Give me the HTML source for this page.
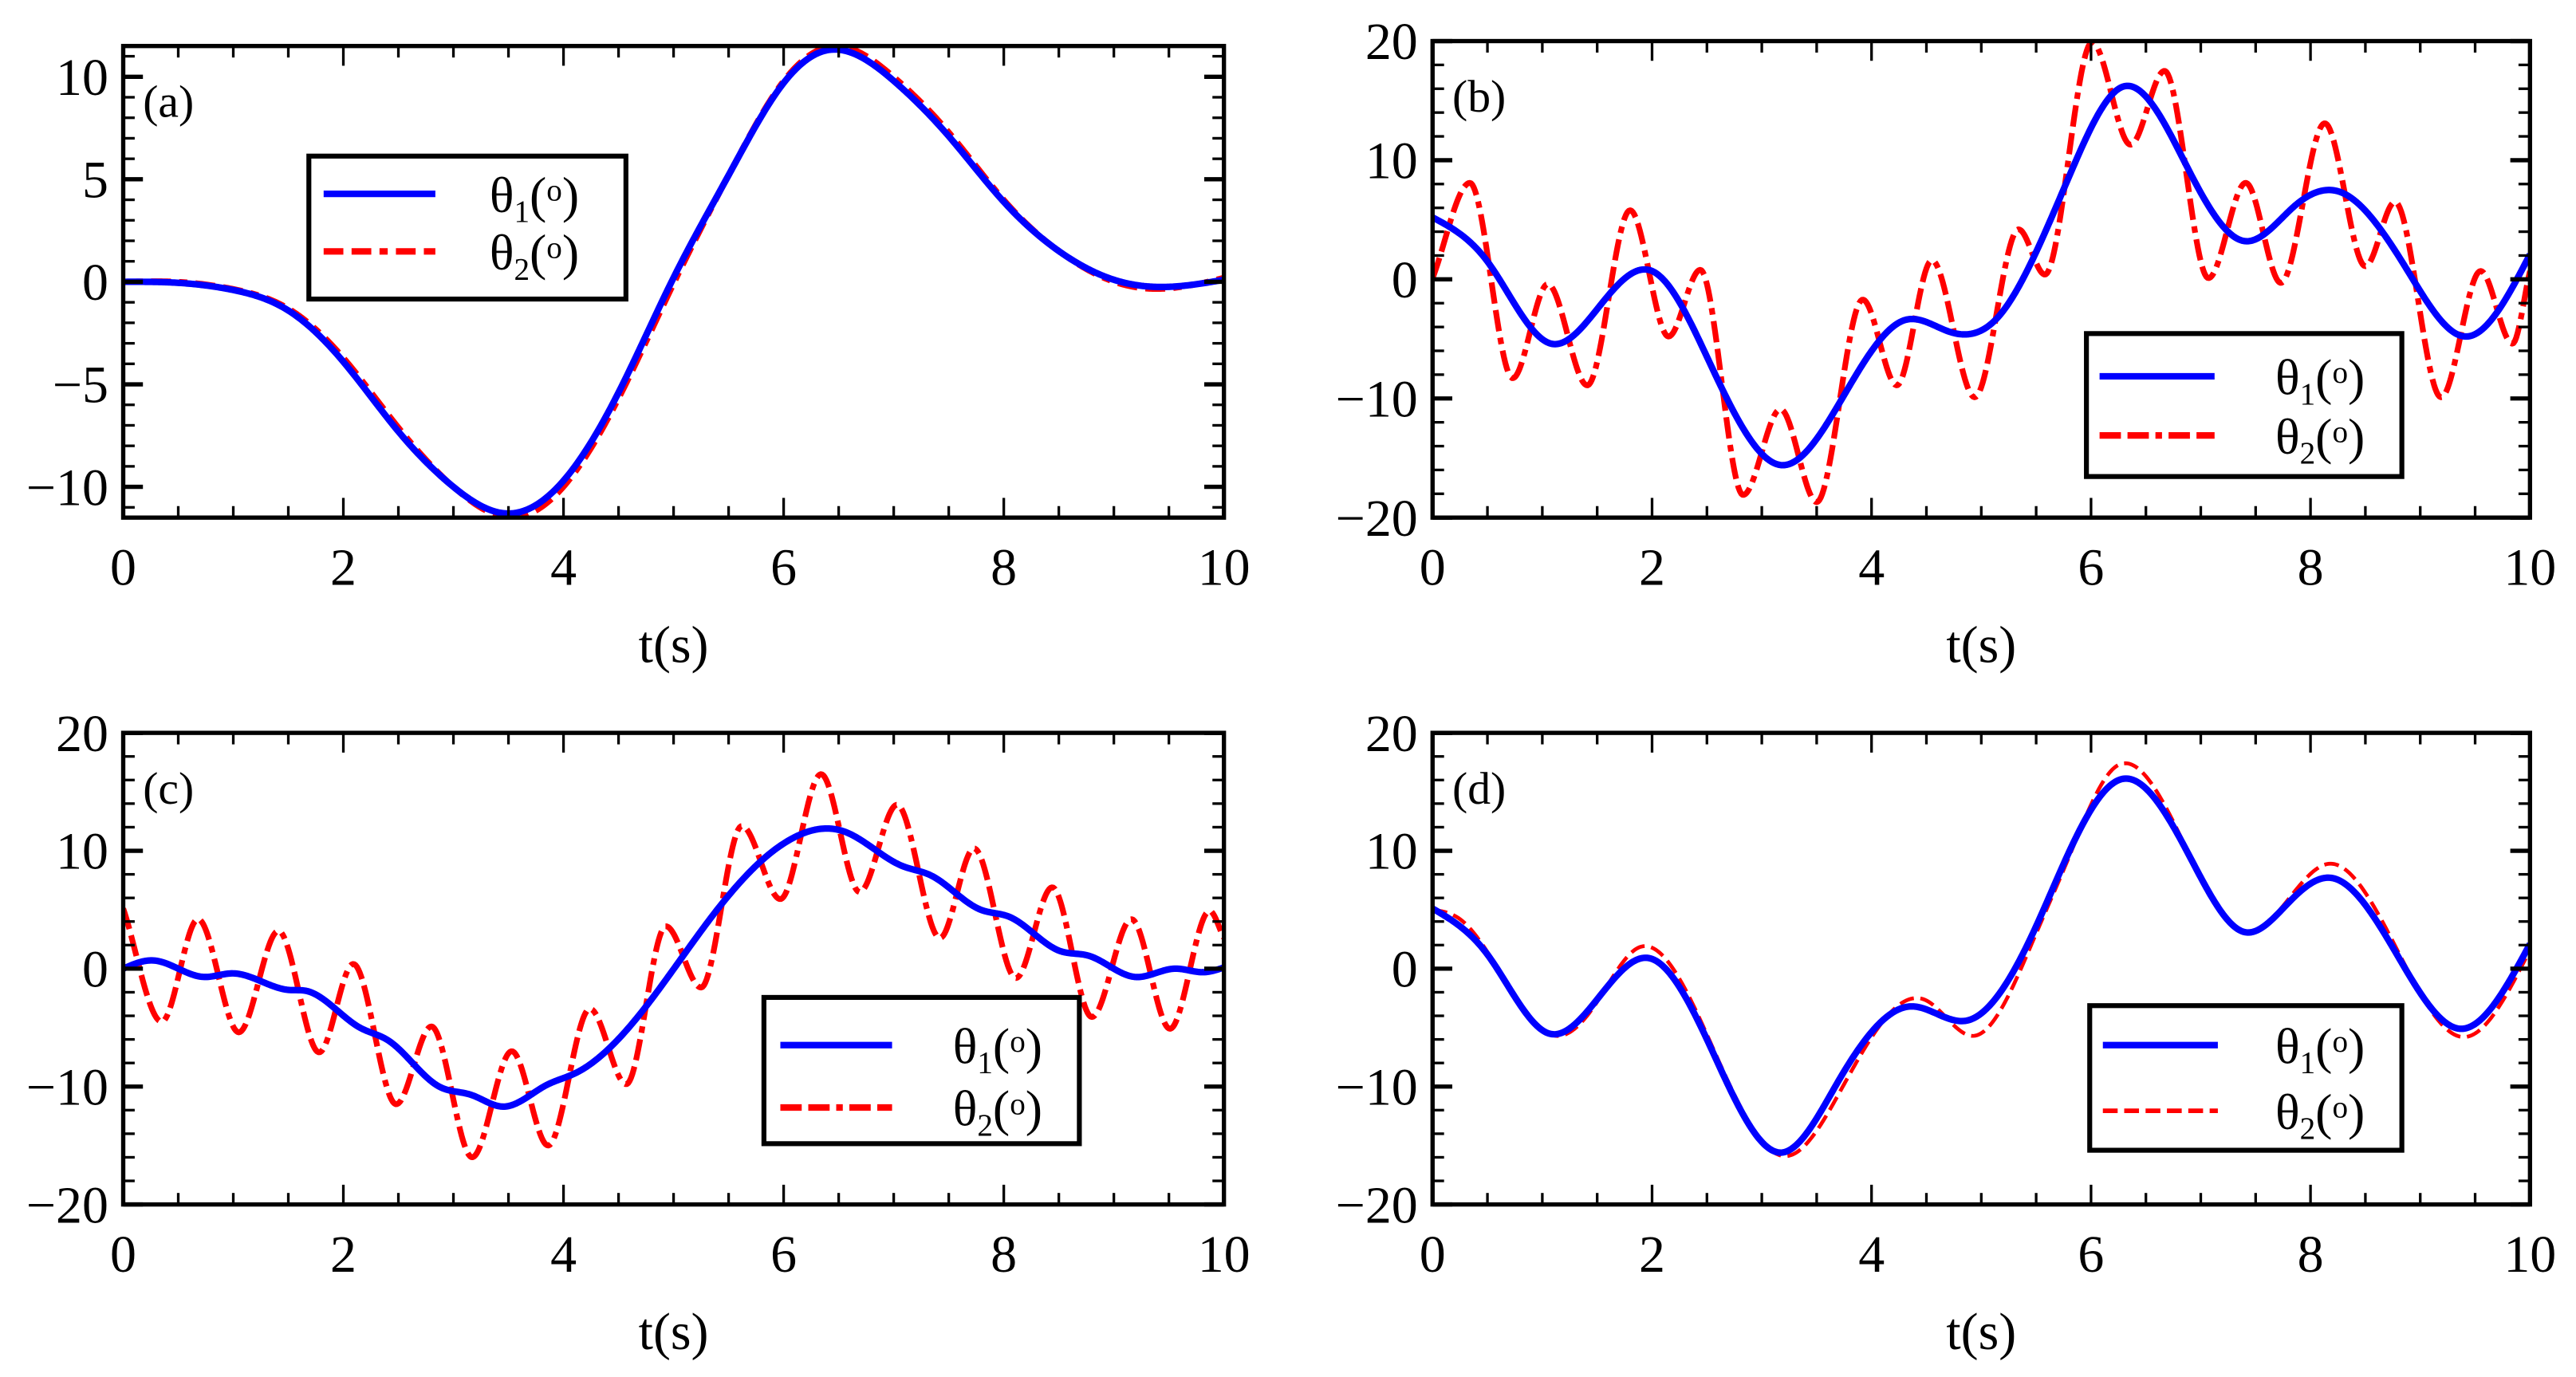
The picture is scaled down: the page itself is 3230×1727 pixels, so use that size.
<!DOCTYPE html>
<html><head><meta charset="utf-8"><style>
html,body{margin:0;padding:0;background:#fff;}
svg{display:block;}
text{font-family:"Liberation Serif","DejaVu Serif",serif;fill:#000;}
</style></head><body>
<svg id="fig" width="3230" height="1727" viewBox="0 0 1568 838" preserveAspectRatio="none" xmlns="http://www.w3.org/2000/svg"></svg>
<script>
// ---- data (t in s, angle in degrees) ----
const aBlueT=[0,0.5,1,1.5,2,2.5,3,3.5,4,4.5,5,5.5,6,6.4,7,7.5,8,8.5,9,9.4,10];
const aBlueV=[0,-0.05,-0.4,-1.4,-3.9,-7.3,-10.0,-11.3,-9.7,-5.4,0.2,5.2,9.7,11.3,9.8,7.1,3.9,1.5,0.1,-0.25,0.1];
const aRedT=[0,0.5,1,1.5,2,2.5,3,3.55,4,4.5,5,5.5,6,6.45,7,7.5,8,8.5,9,9.4,10];
const aRedV=[0,0,-0.35,-1.3,-3.7,-7.1,-10.0,-11.5,-10.0,-5.7,-0.1,5.2,9.8,11.5,10.0,7.3,4.0,1.5,0.0,-0.35,0.2];

const bBlueT=[0,0.5,1.08,1.5,2.0,2.5,3.19,3.7,4.31,4.71,5.14,5.5,5.85,6.3,6.9,7.41,7.86,8.28,8.9,9.42,10];
const bBlueV=[5.2,1.5,-5.4,-2.5,0.7,-6.5,-15.6,-10.5,-3.4,-4.4,-3.3,2.3,9.7,16.2,9.0,3.2,6.2,7.3,0.5,-4.8,2.1];
const bRedT=[0,0.34,0.73,1.05,1.41,1.80,2.15,2.44,2.83,3.17,3.50,3.92,4.23,4.55,4.94,5.34,5.58,6.01,6.36,6.67,7.07,7.41,7.73,8.13,8.50,8.77,9.19,9.55,9.84,10];
const bRedV=[0.1,8.1,-8.3,-0.4,-8.9,5.8,-4.8,0.8,-18.1,-10.9,-18.7,-1.7,-8.9,1.6,-9.9,4.2,0.4,19.9,11.3,17.5,0.1,8.1,-0.3,13.1,1.1,6.5,-9.9,0.7,-5.4,0.7];

const cBlueT=[0,0.27,0.73,0.99,1.5,1.67,2.15,2.41,2.87,3.16,3.45,3.84,4.1,4.75,5.33,5.78,6.11,6.56,7.08,7.34,7.79,8.05,8.51,8.77,9.19,9.55,9.81,10];
const cBlueV=[0,0.7,-0.7,-0.4,-1.8,-1.9,-5.0,-6.1,-10.0,-10.7,-11.7,-9.9,-8.9,-3.2,4.2,9.0,11.2,11.6,8.7,7.9,5.0,4.4,1.5,1.1,-0.7,0,-0.3,0.1];
const cRedT=[0,0.35,0.68,1.05,1.41,1.78,2.09,2.48,2.80,3.17,3.53,3.86,4.24,4.57,4.93,5.25,5.62,5.97,6.34,6.69,7.03,7.42,7.73,8.11,8.44,8.80,9.16,9.51,9.87,10];
const cRedV=[5.1,-4.5,4.2,-5.4,3.2,-7.1,0.4,-11.5,-4.9,-16.0,-7.0,-15.0,-3.4,-9.8,3.6,-1.6,12.1,5.9,16.5,6.5,13.9,2.6,10.2,-0.8,6.9,-4.1,4.2,-5.1,4.9,2.6];

const dBlueT=[0,0.5,1.06,1.5,1.97,2.5,3.18,3.7,4.36,4.87,5.5,5.8,6.29,6.9,7.40,7.8,8.19,8.8,9.37,10];
const dBlueV=[5.1,1.2,-5.5,-2.6,0.9,-6.0,-15.6,-9.5,-3.2,-4.4,3.6,9.9,16.1,9.5,3.1,5.6,7.7,1.0,-5.1,2.1];
const dRedT=[0,0.25,1.13,1.5,1.88,2.5,3.22,3.75,4.5,4.93,5.5,5.8,6.22,6.9,7.43,7.8,8.17,8.8,9.40,10];
const dRedV=[5.0,4.2,-5.7,-2.8,1.8,-5.6,-15.9,-9.8,-2.7,-5.7,3.0,9.5,17.1,9.6,3.1,5.9,8.9,1.4,-5.8,1.6];

const panels=[
 {id:'a',x0:75,x1:745,y0:28,y1:315,ymin:-11.5,ymax:11.5,yMaj:5,yMin:1,yTicks:[10,5,0,-5,-10],
  blueT:aBlueT,blueV:aBlueV,redT:aRedT,redV:aRedV,dash:'12,5,12,5,5,5',rw:3.5,
  leg:{x:188,y:95,w:193,h:87,lx0:197,lx1:265,l1:118,l2:153,tx:298}},
 {id:'b',x0:872,x1:1540,y0:25,y1:315,ymin:-20,ymax:20,yMaj:10,yMin:2,yTicks:[20,10,0,-10,-20],
  blueT:bBlueT,blueV:bBlueV,redT:bRedT,redV:bRedV,dash:'13,4,13,4,4,4',rw:3.5,
  leg:{x:1270,y:203,w:192,h:87,lx0:1278,lx1:1348,l1:229,l2:265,tx:1385}},
 {id:'c',x0:75,x1:745,y0:446,y1:733,ymin:-20,ymax:20,yMaj:10,yMin:2,yTicks:[20,10,0,-10,-20],
  blueT:cBlueT,blueV:cBlueV,redT:cRedT,redV:cRedV,dash:'13,4,13,4,4,4',rw:3.5,
  leg:{x:465,y:607,w:192,h:89,lx0:475,lx1:543,l1:636,l2:674,tx:580}},
 {id:'d',x0:872,x1:1540,y0:446,y1:733,ymin:-20,ymax:20,yMaj:10,yMin:2,yTicks:[20,10,0,-10,-20],
  blueT:dBlueT,blueV:dBlueV,redT:dRedT,redV:dRedV,dash:'9,4',rw:2.3,
  leg:{x:1272,y:612,w:190,h:88,lx0:1280,lx1:1350,l1:636,l2:676,tx:1385}}
];
const xTicks=[0,2,4,6,8,10];

const NS='http://www.w3.org/2000/svg';
const svg=document.getElementById('fig');
function mk(tag,attrs,parent){const e=document.createElementNS(NS,tag);for(const k in attrs)e.setAttribute(k,attrs[k]);(parent||svg).appendChild(e);return e;}

function mono(xs,ys){
 const n=xs.length,d=[],m=new Array(n);
 for(let i=0;i<n-1;i++)d.push((ys[i+1]-ys[i])/(xs[i+1]-xs[i]));
 m[0]=d[0];m[n-1]=d[n-2];
 for(let i=1;i<n-1;i++){ if(d[i-1]*d[i]<=0)m[i]=0; else { const h0=xs[i]-xs[i-1],h1=xs[i+1]-xs[i]; const w1=2*h1+h0,w2=h1+2*h0; m[i]=(w1+w2)/(w1/d[i-1]+w2/d[i]); } }
 return hermite(xs,ys,m);
}
function natural(xs,ys){
 const n=xs.length,h=[],al=[],l=[1],mu=[0],z=[0],c=new Array(n).fill(0);
 for(let i=0;i<n-1;i++)h.push(xs[i+1]-xs[i]);
 for(let i=1;i<n-1;i++)al[i]=3/h[i]*(ys[i+1]-ys[i])-3/h[i-1]*(ys[i]-ys[i-1]);
 for(let i=1;i<n-1;i++){l[i]=2*(xs[i+1]-xs[i-1])-h[i-1]*mu[i-1];mu[i]=h[i]/l[i];z[i]=(al[i]-h[i-1]*z[i-1])/l[i];}
 l[n-1]=1;z[n-1]=0;
 const b=[],dd=[];
 for(let j=n-2;j>=0;j--){c[j]=z[j]-mu[j]*c[j+1];b[j]=(ys[j+1]-ys[j])/h[j]-h[j]*(c[j+1]+2*c[j])/3;dd[j]=(c[j+1]-c[j])/(3*h[j]);}
 return function(x){let i=0;while(i<n-2&&x>xs[i+1])i++;const t=x-xs[i];return ys[i]+b[i]*t+c[i]*t*t+dd[i]*t*t*t;};
}
function hermite(xs,ys,m){
 const n=xs.length;
 return function(x){
  let i=0;while(i<n-2&&x>xs[i+1])i++;
  const h=xs[i+1]-xs[i],t=(x-xs[i])/h,t2=t*t,t3=t2*t;
  return (2*t3-3*t2+1)*ys[i]+(t3-2*t2+t)*h*m[i]+(-2*t3+3*t2)*ys[i+1]+(t3-t2)*h*m[i+1];
 };
}

panels.forEach(p=>{
 const g=mk('g',{});
 
 
 const sx=t=>p.x0+(t/10)*(p.x1-p.x0);
 const sy=v=>p.y1-(v-p.ymin)/(p.ymax-p.ymin)*(p.y1-p.y0);
 const cid='clip'+p.id;
 const cp=mk('clipPath',{id:cid},g);mk('rect',{x:p.x0,y:p.y0,width:p.x1-p.x0,height:p.y1-p.y0},cp);
 function curve(f,color,w,dash,name){
  let d='';
  for(let i=0;i<=800;i++){const t=i/80;d+=(i?'L':'M')+sx(t).toFixed(2)+','+sy(f(t)).toFixed(2);}
  const a={d:d,fill:'none',stroke:color,'stroke-width':w,'clip-path':'url(#'+cid+')','stroke-linejoin':'round'};
  if(dash)a['stroke-dasharray']=dash;
  const e=mk('path',a,g);
  
  
 }
 const redF=(p.id==='b'||p.id==='c')?mono(p.redT,p.redV):natural(p.redT,p.redV);
 curve(redF,'#ff0000',p.rw,p.dash,'theta2-line-'+p.id);
 curve(natural(p.blueT,p.blueV),'#0000ff',4,null,'theta1-line-'+p.id);
 const fr=mk('rect',{x:p.x0,y:p.y0,width:p.x1-p.x0,height:p.y1-p.y0,fill:'none',stroke:'#000','stroke-width':2.6},g);
 
 
 for(let t=0;t<=10.001;t+=0.5){
  const maj=Math.abs(t/2-Math.round(t/2))<1e-6,L=maj?12:7,X=sx(t);
  mk('line',{x1:X,y1:p.y1,x2:X,y2:p.y1-L,stroke:'#000','stroke-width':1.6},g);
  mk('line',{x1:X,y1:p.y0,x2:X,y2:p.y0+L,stroke:'#000','stroke-width':1.6},g);
 }
 xTicks.forEach(t=>{
  const e=mk('text',{x:sx(t),y:p.y1+41,'font-size':32,'text-anchor':'middle'},g);e.textContent=t;
  
  
 });
 for(let v=Math.ceil(p.ymin/p.yMin)*p.yMin;v<=p.ymax+1e-6;v+=p.yMin){
  const maj=Math.abs(v/p.yMaj-Math.round(v/p.yMaj))<1e-6,L=maj?12:7,Y=sy(v);
  mk('line',{x1:p.x0,y1:Y,x2:p.x0+L,y2:Y,stroke:'#000','stroke-width':maj?2.6:1.6},g);
  mk('line',{x1:p.x1,y1:Y,x2:p.x1-L,y2:Y,stroke:'#000','stroke-width':maj?2.6:1.6},g);
 }
 p.yTicks.forEach(v=>{
  const e=mk('text',{x:p.x0-9,y:sy(v)+11,'font-size':32,'text-anchor':'end'},g);e.textContent=(v<0?'\u2212'+(-v):v);
  
  
 });
 const xt=mk('text',{x:(p.x0+p.x1)/2,y:p.y1+88,'font-size':32,'text-anchor':'middle'},g);xt.textContent='t(s)';
 
 
 const pl=mk('text',{x:p.x0+12,y:p.y0+43,'font-size':28},g);pl.textContent='('+p.id+')';
 
 
 const L=p.leg;
 const lg=mk('g',{},g);
 
 
 mk('rect',{x:L.x,y:L.y,width:L.w,height:L.h,fill:'#fff',stroke:'#000','stroke-width':3},lg);
 mk('line',{x1:L.lx0,y1:L.l1,x2:L.lx1,y2:L.l1,stroke:'#0000ff','stroke-width':4},lg);
 mk('line',{x1:L.lx0,y1:L.l2,x2:L.lx1,y2:L.l2,stroke:'#ff0000','stroke-width':p.rw+0.5,'stroke-dasharray':p.dash},lg);
 [[L.l1,'1'],[L.l2,'2']].forEach(([y,s])=>{
  const t=mk('text',{x:L.tx,y:y+11,'font-size':31},lg);
  
  
  t.innerHTML='θ<tspan font-size="19" dy="6">'+s+'</tspan><tspan dy="-6">(</tspan><tspan font-size="19" dy="-7">o</tspan><tspan dy="7">)</tspan>';
 });
});
</script>
</body></html>
